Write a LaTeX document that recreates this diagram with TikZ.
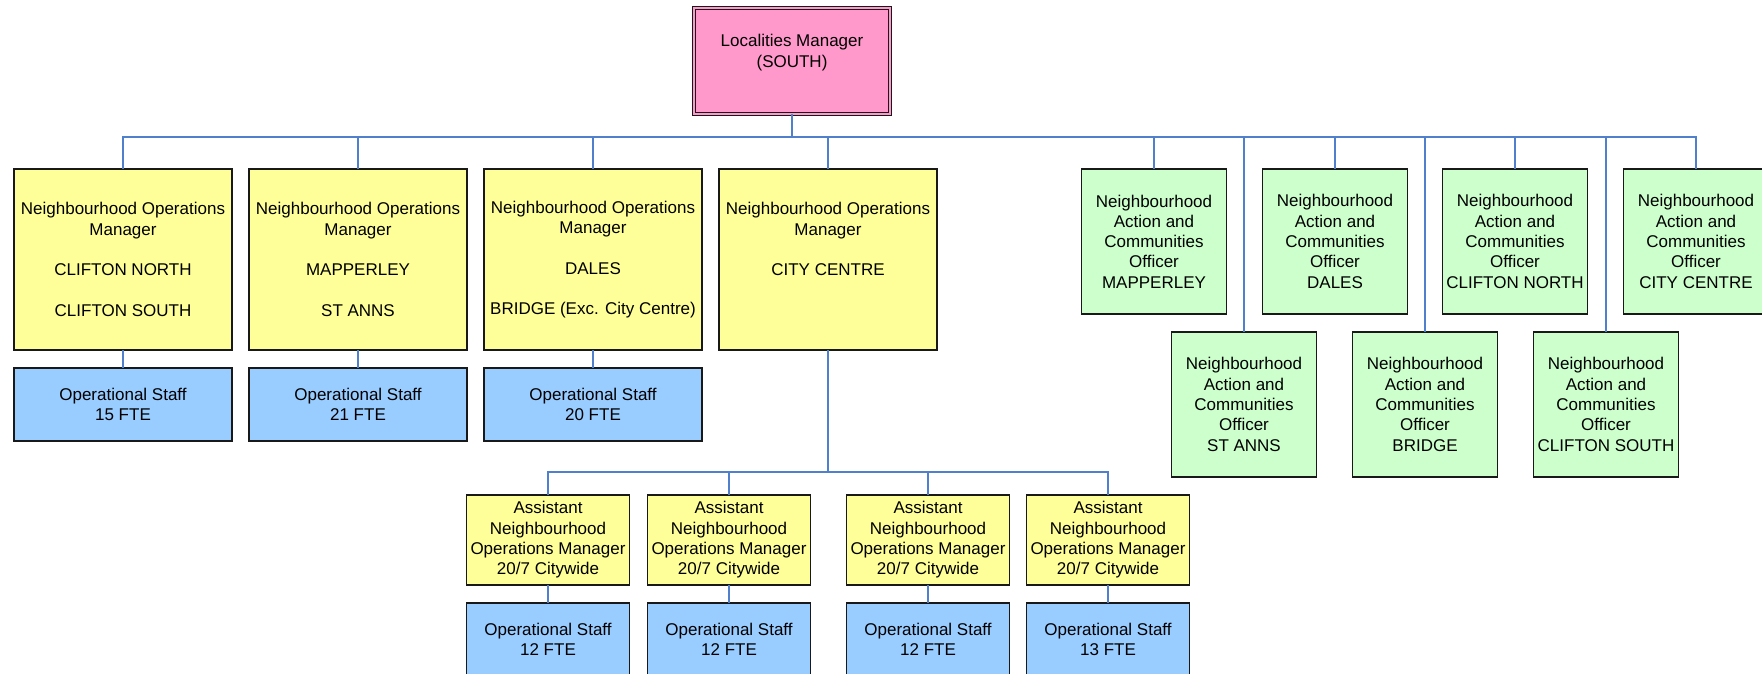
\documentclass[tikz,border=0pt]{standalone}
\usepackage{fontspec}
\setmainfont{Liberation Sans}
\usetikzlibrary{positioning}
\definecolor{mgrpink}{HTML}{FF99CC}
\definecolor{nomyellow}{HTML}{FFFF99}
\definecolor{staffblue}{HTML}{99CCFF}
\definecolor{nacgreen}{HTML}{CCFFCC}
\definecolor{linkblue}{HTML}{5080CC}
\begin{document}
\begin{tikzpicture}[x=1pt, y=-1pt, node distance=18pt,
  box/.style={draw=black!90, line width=1.3pt, align=center, inner sep=2pt, outer sep=0pt, font=\fontsize{17}{20.3}\selectfont},
  head/.style={box, fill=mgrpink, double=mgrpink, double distance=2.5pt, line width=1pt, minimum width=196pt, minimum height=106pt},
  nom/.style={box, fill=nomyellow, minimum width=218pt, minimum height=181pt},
  staff/.style={box, fill=staffblue, minimum width=218pt, minimum height=73pt},
  nac/.style={box, fill=nacgreen, minimum width=145pt, minimum height=145pt},
  anom/.style={box, fill=nomyellow, minimum width=163pt, minimum height=90pt},
  astaff/.style={box, fill=staffblue, minimum width=163pt, minimum height=73pt},
  link/.style={draw=linkblue, line width=1.5pt}]
\useasboundingbox (0,0) rectangle (1762,674);

\node[head] (locm) at (792,61) {Localities Manager\\(SOUTH)\\\mbox{}};
\coordinate (bus) at (792,137);

% operations managers
\node[nom] (nomCN) at (123,259.5) {Neighbourhood Operations\\Manager\\\mbox{}\\CLIFTON NORTH\\\mbox{}\\CLIFTON SOUTH};
\node[nom] (nomMP) at (358,259.5) {Neighbourhood Operations\\Manager\\\mbox{}\\MAPPERLEY\\\mbox{}\\ST ANNS};
\node[nom] (nomDB) at (593,259.5) {Neighbourhood Operations\\Manager\\\mbox{}\\DALES\\\mbox{}\\BRIDGE (Exc. City Centre)};
\node[nom] (nomCC) at (828,259.5) {Neighbourhood Operations\\Manager\\\mbox{}\\CITY CENTRE\\\mbox{}\\\mbox{}};

\node[staff, below=of nomCN] (stCN) {Operational Staff\\15 FTE};
\node[staff, below=of nomMP] (stMP) {Operational Staff\\21 FTE};
\node[staff, below=of nomDB] (stDB) {Operational Staff\\20 FTE};

% action and communities officers
\node[nac] (nacMP) at (1154,241.5) {Neighbourhood\\Action and\\Communities\\Officer\\MAPPERLEY};
\node[nac] (nacDA) at (1335,241.5) {Neighbourhood\\Action and\\Communities\\Officer\\DALES};
\node[nac] (nacCN) at (1515,241.5) {Neighbourhood\\Action and\\Communities\\Officer\\CLIFTON NORTH};
\node[nac] (nacCC) at (1696,241.5) {Neighbourhood\\Action and\\Communities\\Officer\\CITY CENTRE};
\node[nac] (nacSA) at (1244,404.5) {Neighbourhood\\Action and\\Communities\\Officer\\ST ANNS};
\node[nac] (nacBR) at (1425,404.5) {Neighbourhood\\Action and\\Communities\\Officer\\BRIDGE};
\node[nac] (nacCS) at (1606,404.5) {Neighbourhood\\Action and\\Communities\\Officer\\CLIFTON SOUTH};

% 20/7 citywide
\coordinate (sub) at (828,472);
\node[anom] (anomA) at (548,540) {Assistant\\Neighbourhood\\Operations Manager\\20/7 Citywide};
\node[anom] (anomB) at (729,540) {Assistant\\Neighbourhood\\Operations Manager\\20/7 Citywide};
\node[anom] (anomC) at (928,540) {Assistant\\Neighbourhood\\Operations Manager\\20/7 Citywide};
\node[anom] (anomD) at (1108,540) {Assistant\\Neighbourhood\\Operations Manager\\20/7 Citywide};

\node[astaff, below=of anomA] (stA) {Operational Staff\\12 FTE};
\node[astaff, below=of anomB] (stB) {Operational Staff\\12 FTE};
\node[astaff, below=of anomC] (stC) {Operational Staff\\12 FTE};
\node[astaff, below=of anomD] (stD) {Operational Staff\\13 FTE};

\draw[link] (locm.south) -- (bus);
\draw[link] (nomCN.north) |- (bus);
\draw[link] (nomMP.north) |- (bus);
\draw[link] (nomDB.north) |- (bus);
\draw[link] (nomCC.north) |- (bus);
\draw[link] (nacMP.north) |- (bus);
\draw[link] (nacSA.north) |- (bus);
\draw[link] (nacDA.north) |- (bus);
\draw[link] (nacBR.north) |- (bus);
\draw[link] (nacCN.north) |- (bus);
\draw[link] (nacCS.north) |- (bus);
\draw[link] (nacCC.north) |- (bus);

\draw[link] (nomCN) -- (stCN);
\draw[link] (nomMP) -- (stMP);
\draw[link] (nomDB) -- (stDB);

\draw[link] (nomCC.south) -- (sub);
\draw[link] (anomA.north) |- (sub);
\draw[link] (anomB.north) |- (sub);
\draw[link] (anomC.north) |- (sub);
\draw[link] (anomD.north) |- (sub);
\draw[link] (anomA) -- (stA);
\draw[link] (anomB) -- (stB);
\draw[link] (anomC) -- (stC);
\draw[link] (anomD) -- (stD);
\end{tikzpicture}
\end{document}
